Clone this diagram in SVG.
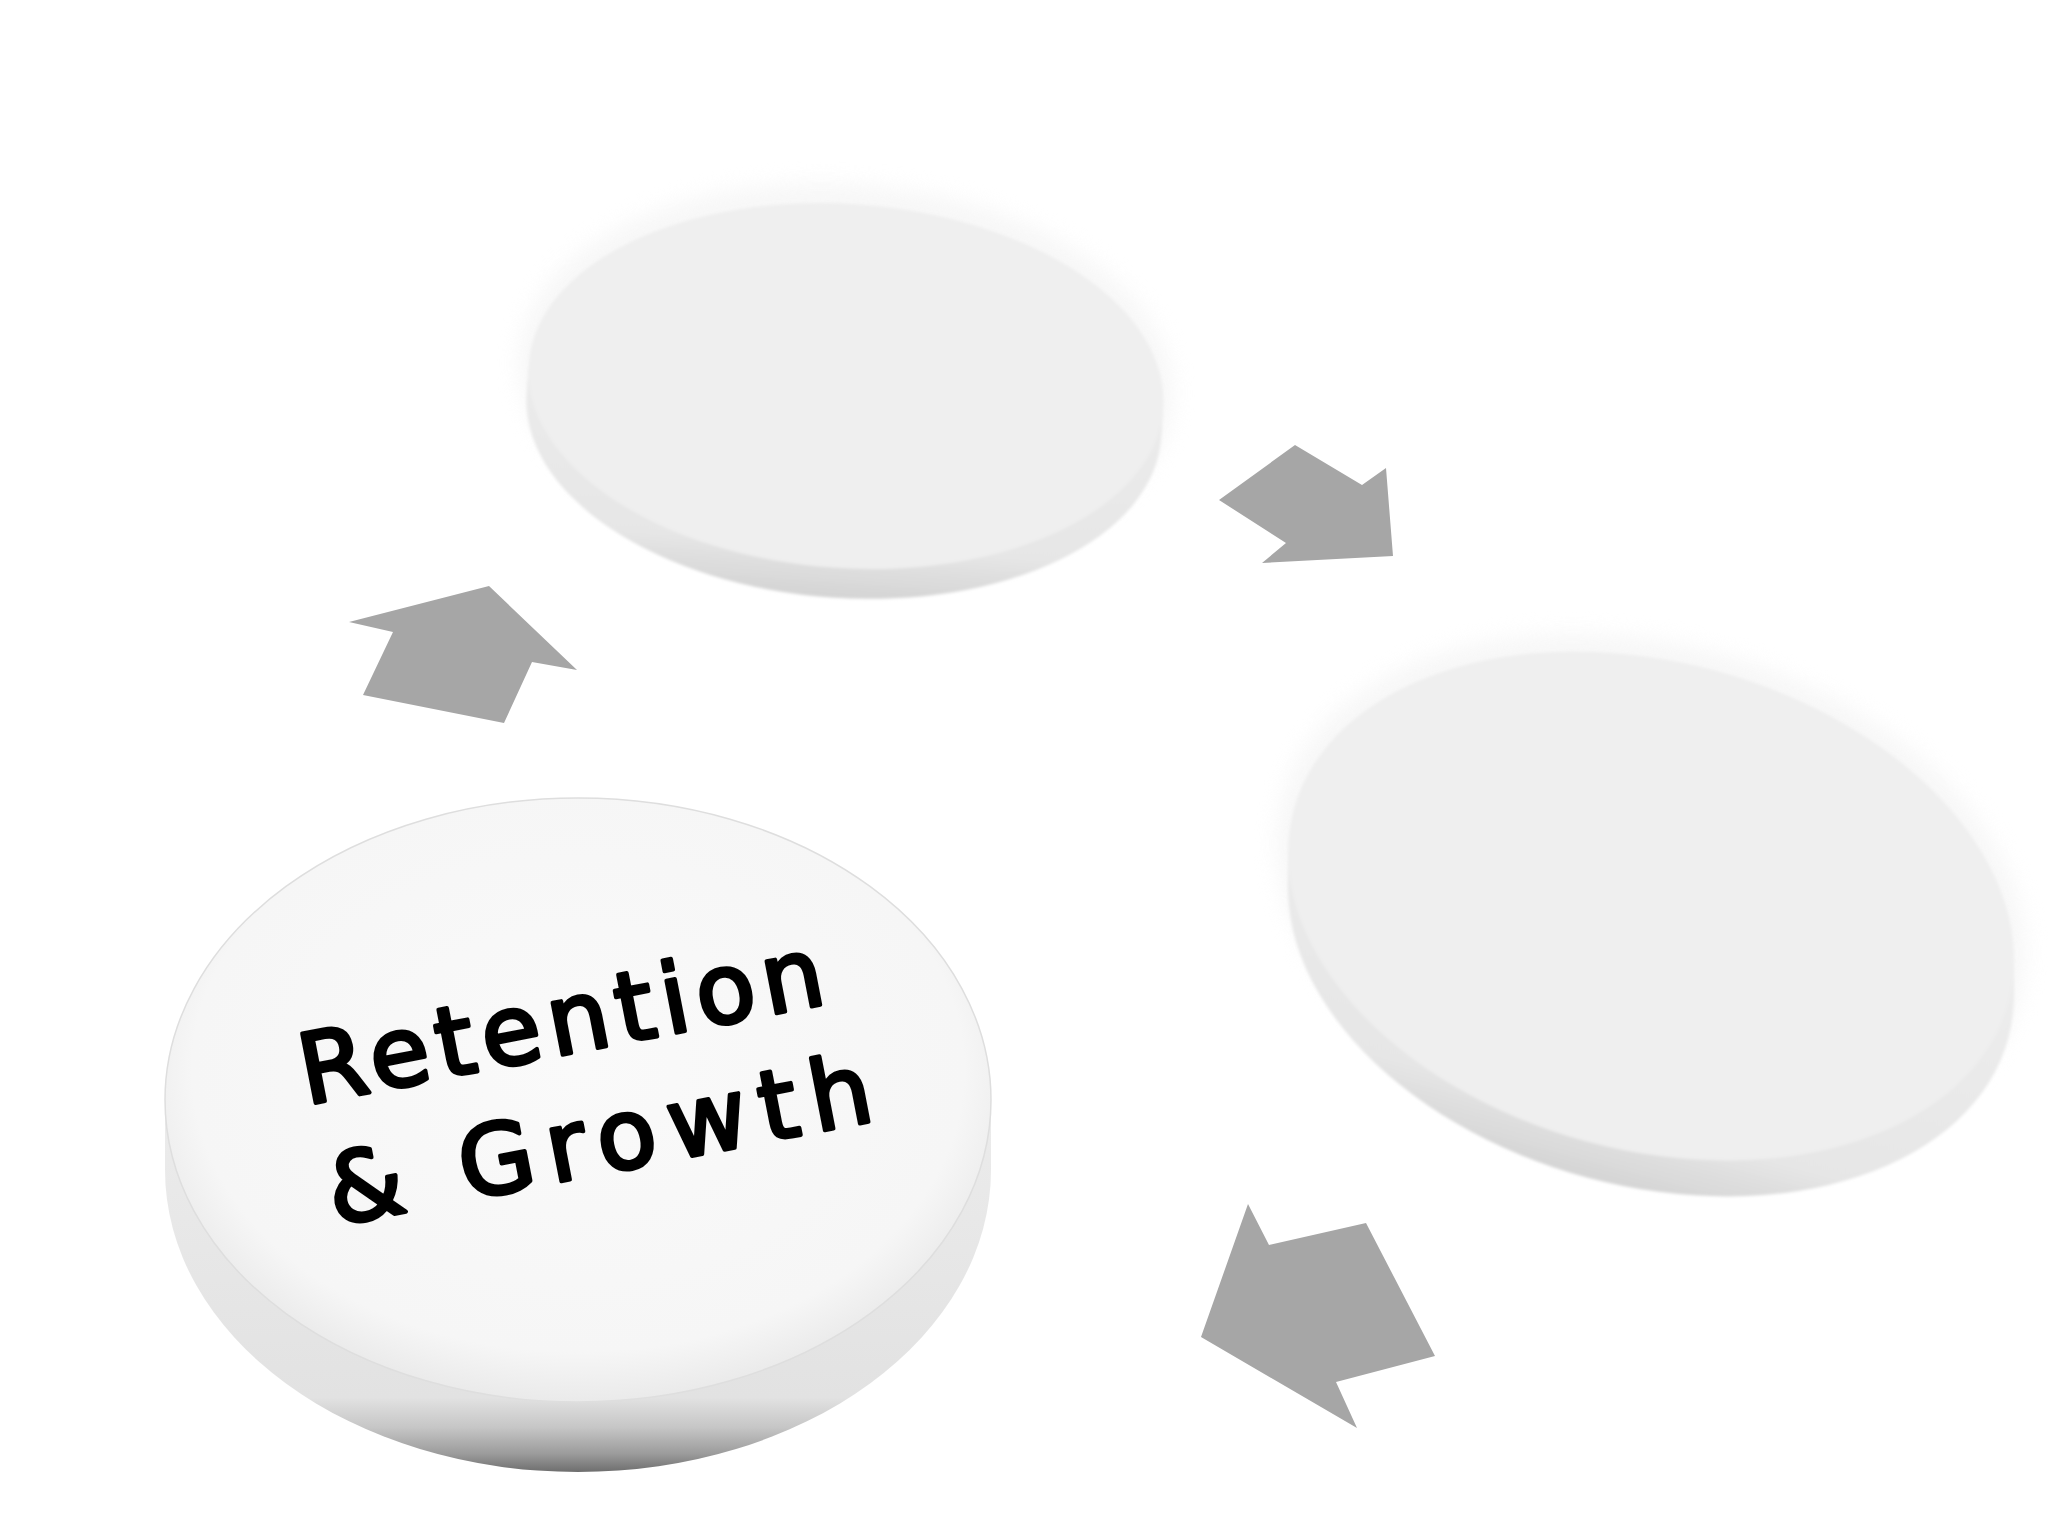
<svg xmlns="http://www.w3.org/2000/svg" width="2048" height="1536" viewBox="0 0 2048 1536">
  <defs>
    <style>
      .arrow { fill: #a6a6a6; }
      .label { font-family: "DejaVu Sans", "Open Sans", sans-serif; font-size: 97px; font-weight: 400; fill: #000000; stroke: #000000; stroke-width: 4px; stroke-linejoin: round; }
      .faceFaded { fill: #efefef; }
    </style>
    <radialGradient id="faceMain" cx="50%" cy="45%" r="55%">
      <stop offset="0" stop-color="#fafafa"/>
      <stop offset="0.85" stop-color="#f6f6f6"/>
      <stop offset="1" stop-color="#eaeaea"/>
    </radialGradient>
    <linearGradient id="sideMain" gradientUnits="userSpaceOnUse" x1="0" y1="1100" x2="0" y2="1472">
      <stop offset="0" stop-color="#ececec"/>
      <stop offset="0.8" stop-color="#e2e2e2"/>
      <stop offset="0.88" stop-color="#c6c6c6"/>
      <stop offset="0.95" stop-color="#9c9c9c"/>
      <stop offset="1" stop-color="#6e6e6e"/>
    </linearGradient>
    <linearGradient id="sideTop" gradientUnits="userSpaceOnUse" x1="0" y1="380" x2="0" y2="600">
      <stop offset="0" stop-color="#ececec"/>
      <stop offset="0.75" stop-color="#e6e6e6"/>
      <stop offset="1" stop-color="#d3d3d3"/>
    </linearGradient>
    <linearGradient id="sideRight" gradientUnits="userSpaceOnUse" x1="0" y1="906" x2="0" y2="1192">
      <stop offset="0" stop-color="#ececec"/>
      <stop offset="0.75" stop-color="#e6e6e6"/>
      <stop offset="1" stop-color="#d3d3d3"/>
    </linearGradient>
    <filter id="soft" x="-10%" y="-10%" width="120%" height="120%">
      <feGaussianBlur stdDeviation="1.6"/>
    </filter>
    <filter id="glow" x="-20%" y="-20%" width="140%" height="140%">
      <feGaussianBlur stdDeviation="10"/>
    </filter>
  </defs>

  <rect x="0" y="0" width="2048" height="1536" fill="#ffffff"/>

  <!-- Top disk (empty) -->
  <g id="node-top">
    <ellipse cx="846" cy="378" rx="328" ry="194" transform="rotate(4 846 378)" fill="#f4f4f4" opacity="0.7" filter="url(#glow)"/>
    <g filter="url(#soft)">
      <g fill="url(#sideTop)" transform="rotate(4 846 386)">
        <ellipse cx="846" cy="394" rx="318" ry="182"/>
        <ellipse cx="846" cy="402" rx="318" ry="182"/>
        <ellipse cx="846" cy="410" rx="318" ry="182"/>
        <ellipse cx="846" cy="416" rx="318" ry="182"/>
      </g>
      <ellipse class="faceFaded" cx="846" cy="386" rx="318" ry="182" transform="rotate(4 846 386)"/>
    </g>
  </g>

  <!-- Right disk (empty) -->
  <g id="node-right">
    <ellipse cx="1651" cy="898" rx="382" ry="254" transform="rotate(15 1651 898)" fill="#f4f4f4" opacity="0.7" filter="url(#glow)"/>
    <g filter="url(#soft)">
      <g fill="url(#sideRight)">
        <ellipse cx="1651" cy="916" rx="370" ry="244" transform="rotate(15 1651 916)"/>
        <ellipse cx="1651" cy="926" rx="370" ry="244" transform="rotate(15 1651 926)"/>
        <ellipse cx="1651" cy="936" rx="370" ry="244" transform="rotate(15 1651 936)"/>
        <ellipse cx="1651" cy="942" rx="370" ry="244" transform="rotate(15 1651 942)"/>
      </g>
      <ellipse class="faceFaded" cx="1651" cy="906" rx="370" ry="244" transform="rotate(15 1651 906)"/>
    </g>
  </g>

  <!-- Bottom-left disk with label -->
  <g id="node-retention">
    <path d="M165,1100 L165,1170 A413,302 0 0 0 991,1170 L991,1100 Z" fill="url(#sideMain)"/>
    <ellipse cx="578" cy="1100" rx="413" ry="302" fill="url(#faceMain)" stroke="#dedede" stroke-width="1.5"/>
    <g transform="translate(315,1103) rotate(-11)">
      <text class="label" x="-9" y="0" textLength="532" lengthAdjust="spacing">Retention</text>
      <text class="label" x="-4" y="124" textLength="552" lengthAdjust="spacing">&amp; Growth</text>
    </g>
  </g>

  <!-- Connectors -->
  <g id="connectors">
    <polygon class="arrow" points="349,622 489,586 577,670 532,662 504,723 363,695 393,632"/>
    <polygon class="arrow" points="1219,500 1295,445 1362,485 1386,468 1393,556 1262,563 1286,543"/>
    <polygon class="arrow" points="1248,1204 1269,1245 1366,1223 1435,1356 1336,1382 1357,1428 1201,1337"/>
  </g>
</svg>
